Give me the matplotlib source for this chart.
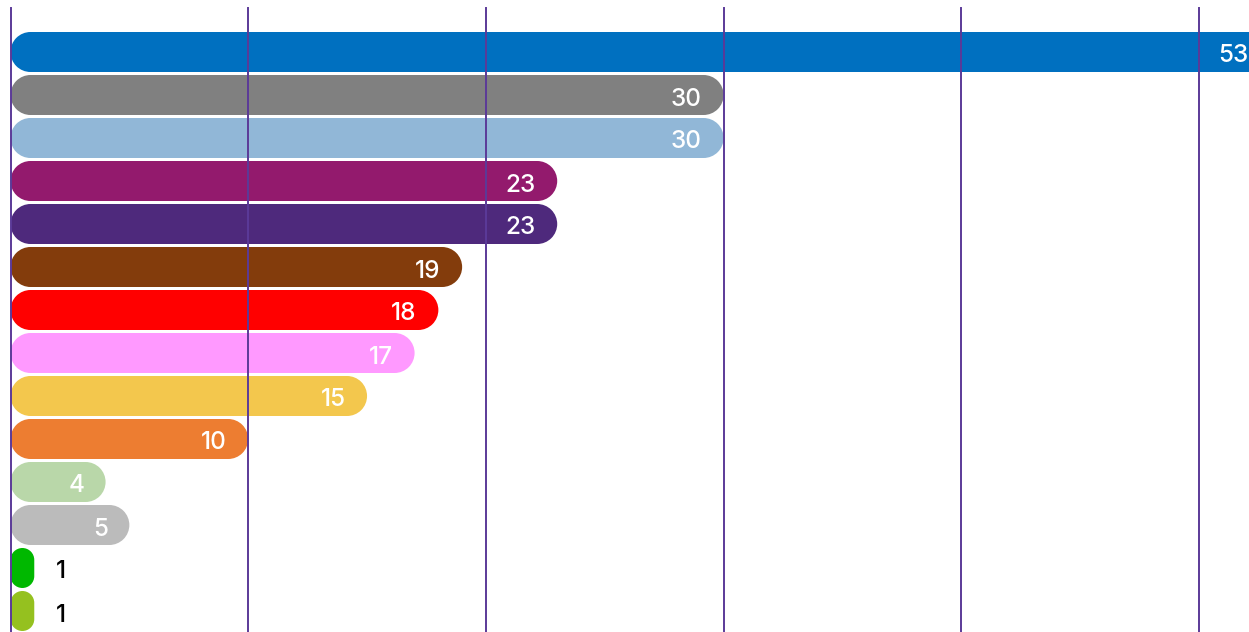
#!/usr/bin/env python
"""Horizontal pill-shaped bar chart with value labels."""
import matplotlib
matplotlib.use("Agg")
import matplotlib.pyplot as plt
import numpy as np
from matplotlib.path import Path
from matplotlib.patches import PathPatch

plt.rcParams["font.family"] = ["Inter", "DejaVu Sans"]

# data, top to bottom
values = [53, 30, 30, 23, 23, 19, 18, 17, 15, 10, 4, 5, 1, 1]
colors = ["#0070C0", "#808080", "#91B7D7", "#931A6D", "#4E297C", "#833C0C",
          "#FF0000", "#FF99FF", "#F3C74D", "#ED7D31", "#B9D7A9", "#BBBBBB",
          "#00B800", "#95C11F"]
grid_ticks = [0, 10, 20, 30, 40, 50]

W, H, DPI = 1249, 632, 100
x0_px, px_per_unit = 10.5, 23.77   # x=0 position and scale, in pixels
pitch_px, bar_h_px = 43.0, 40.0


def rounded_bar(x, y, w, h, rx, ry):
    """Rounded rectangle path; corners are quarter ellipses (rx, ry)."""
    corners = [((x + w - rx, y + h - ry), -90, 0),   # y axis is inverted
               ((x + w - rx, y + ry), 0, 90),
               ((x + rx, y + ry), 90, 180),
               ((x + rx, y + h - ry), 180, 270)]
    verts, codes = [], []
    for (cx, cy), t1, t2 in corners:
        arc = Path.arc(t1, t2)
        v = arc.vertices * [rx, -ry] + [cx, cy]
        c = list(arc.codes)
        c[0] = Path.MOVETO if not codes else Path.LINETO
        verts.extend(v)
        codes.extend(c)
    verts.append(verts[0])
    codes.append(Path.CLOSEPOLY)
    return Path(np.array(verts), codes)


fig = plt.figure(figsize=(W / DPI, H / DPI), dpi=DPI)
ax = fig.add_axes([x0_px / W, 0, 1 - x0_px / W, (H - 8) / H])
ax.set_xlim(0, (W - x0_px) / px_per_unit)
ax.set_ylim(len(values) - 1 + 21 / pitch_px, -44 / pitch_px)

bar_h = bar_h_px / pitch_px
dy = 1.5 / pitch_px  # labels sit a touch below centre
for i, (v, c) in enumerate(zip(values, colors)):
    r_px = min(v * px_per_unit, bar_h_px) / 2
    path = rounded_bar(0, i - bar_h / 2, v, bar_h,
                       r_px / px_per_unit, r_px / pitch_px)
    ax.add_patch(PathPatch(path, facecolor=c, edgecolor="none", zorder=1))
    gap = 21.5 / px_per_unit
    if v * px_per_unit > 60:
        ax.text(v - gap, i + dy, str(v), ha="right", va="center_baseline",
                color="white", fontsize=17.5, fontweight="medium",
                zorder=4, clip_on=False)
    else:
        ax.text(v + gap, i + dy, str(v), ha="left", va="center_baseline",
                color="black", fontsize=17.5, fontweight="medium",
                zorder=4, clip_on=False)

for t in grid_ticks:
    ax.axvline(t, color="#5B3A98", linewidth=1.4, zorder=3, clip_on=False)

ax.set_xticks([])
ax.set_yticks([])
for s in ax.spines.values():
    s.set_visible(False)

fig.savefig("out.png", dpi=DPI)
